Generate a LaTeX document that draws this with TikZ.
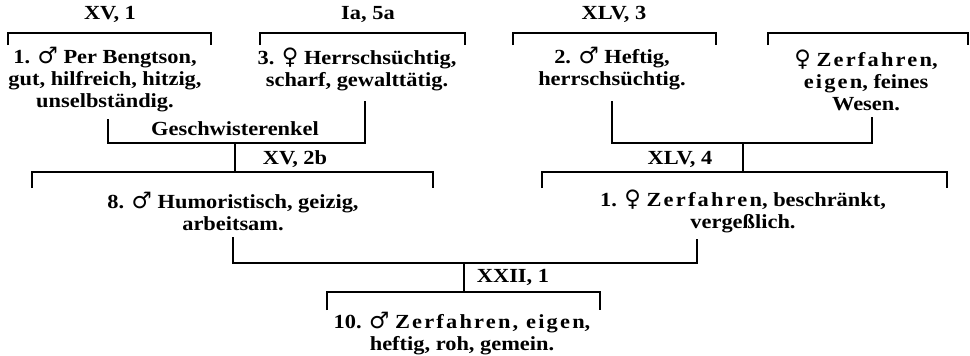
\documentclass[tikz,border=0pt]{standalone}
\usepackage{fontspec}
\setmainfont[FakeStretch=1.12]{Liberation Serif}
\newfontfamily\symfont{DejaVu Sans}

\newcommand{\msym}{{\symfont\mdseries\fontsize{17}{16.5}\selectfont ♂}}
\newcommand{\fsym}{{\symfont\mdseries\fontsize{17}{16.5}\selectfont ♀}}
\newcommand{\sperr}[1]{{\addfontfeature{LetterSpace=11}#1}}

\begin{document}
\begin{tikzpicture}[x=0.75pt,y=-0.75pt,line width=1.3pt,
    person/.style={align=center,font=\fontsize{15}{16.5}\selectfont\bfseries,inner sep=0pt},
    tag/.style={font=\fontsize{15}{16.5}\selectfont\bfseries,inner sep=0pt}]
            \useasboundingbox (0,0) rectangle (970,355);

            % upper row
            \node[tag] (t1) at (110,14) {XV, 1};
            \draw (8,45) |- (211,33) -- (211,45);
            \node[person] (p1) at (105,80) {1. \msym\ Per Bengtson,\\ gut, hilfreich, hitzig,\\ unselbständig.};

            \node[tag] (t2) at (368,14) {Ia, 5a};
            \draw (260,45) |- (465,33) -- (465,45);
            \node[person] (p3) at (357,69) {3. \fsym\ Herrschsüchtig,\\ scharf, gewalttätig.};

            \node[tag] (t3) at (614,14) {XLV, 3};
            \draw (513,45) |- (716,33) -- (716,45);
            \node[person] (p2) at (612,69) {2. \msym\ Heftig,\\ herrschsüchtig.};

            \draw (768,45) |- (968,33) -- (968,45);
            \node[person] (p4) at (866,80) {\fsym\ \sperr{Zerfahren},\\ \sperr{eigen}, feines\\ Wesen.};

            % middle row
            \coordinate (j1) at (235,143);
            \coordinate (k1) at (235,172);
            \draw ([shift={(3,6)}]p1.south) |- (j1) -| ([shift={(8,10)}]p3.south);
            \node[tag] (tg) at (235,129) {Geschwisterenkel};
            \draw (j1) -- (k1);
            \node[tag] (t4) at (295,159) {XV, 2b};
            \draw (32,188) |- (433,172) -- (433,188);
            \node[person] (p8) at (233,211) {8. \msym\ Humoristisch, geizig,\\ arbeitsam.};

            \coordinate (j2) at (743,143);
            \coordinate (k2) at (743,172);
            \draw ([shift={(0,10)}]p2.south) |- (j2) -| ([shift={(6,6)}]p4.south);
            \draw (j2) -- (k2);
            \node[tag] (t5) at (680,159) {XLV, 4};
            \draw (542,188) |- (947,172) -- (947,188);
            \node[person] (q1) at (743,211) {1. \fsym\ \sperr{Zerfahren}, beschränkt,\\ vergeßlich.};

            % lower row
            \coordinate (j3) at (464,263);
            \coordinate (k3) at (464,292);
            \draw ([shift={(0,6)}]p8.south) |- (j3) -| ([shift={(-46,6)}]q1.south);
            \draw (j3) -- (k3);
            \node[tag] (t6) at (513,277) {XXII, 1};
            \draw (327,310) |- (600,292) -- (600,310);
            \node[person] (p10) at (462,334) {10. \msym\ \sperr{Zerfahren, eigen},\\ heftig, roh, gemein.};
        \end{tikzpicture}
\end{document}
